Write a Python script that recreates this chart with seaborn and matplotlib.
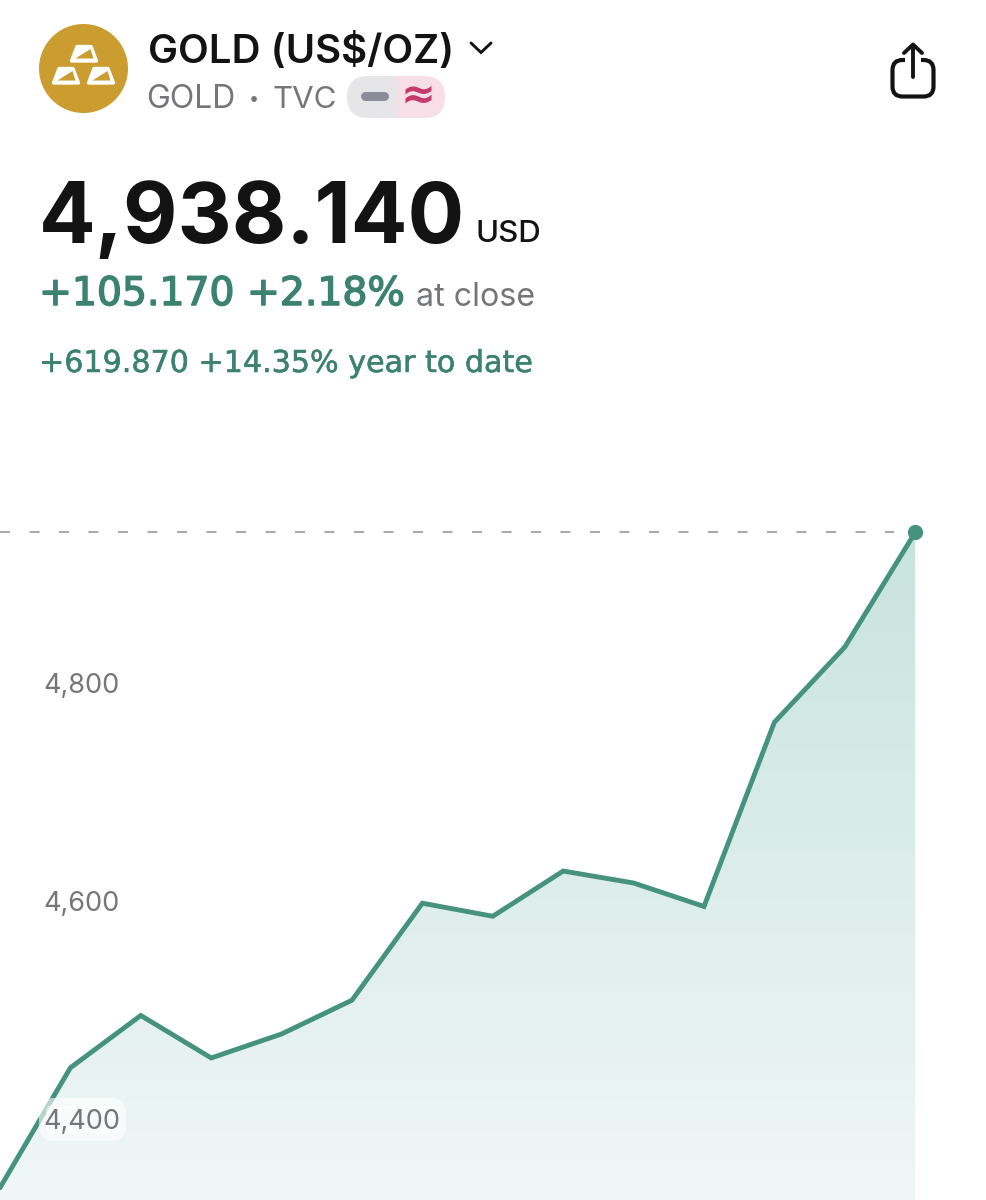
import seaborn as sns
import matplotlib
matplotlib.use("Agg")
import matplotlib.pyplot as plt
import matplotlib.patheffects as pe
from matplotlib.patches import Circle, FancyBboxPatch, Polygon, Rectangle
import numpy as np

# valeurs
sessions = list(range(14))
closes = [4337, 4447, 4495, 4456, 4478, 4509, 4598, 4586, 4627.5, 4616.5, 4595, 4764, 4833, 4938.14]
ytick_values = [4800, 4600, 4400]
ytick_labels = ["4,800", "4,600", "4,400"]
last_close = 4938.14

GREEN = "#45937F"
TEXT_GREEN = "#3C8270"
GREY = "#757679"
INK = "#131313"
GOLD = "#CB9C30"
FONT = "Inter"

sns.set_theme(style="white")
plt.rcParams["font.family"] = [FONT, "DejaVu Sans"]

fig = plt.figure(figsize=(9.86, 12), dpi=100)

# couche interface en pixels, sous le graphique
ui = fig.add_axes([0, 0, 1, 1], facecolor="none", zorder=0)
ui.set_xlim(0, 986)
ui.set_ylim(1200, 0)
ui.axis("off")

# axe du graphique, toute la figure
ax = fig.add_axes([0, 0, 1, 1], facecolor="none", zorder=1)
xlim = (0, 986 / 70.4)
ylim = (4800 - 517 / 1.09, 4800 + 683 / 1.09)
ax.set_xlim(xlim)
ax.set_ylim(ylim)
ax.axis("off")

# dégradé sous la courbe
poly = ax.fill_between(sessions, closes, ylim[0], color="none")
grad = np.linspace(0, 1, 256).reshape(-1, 1)
cmap = matplotlib.colors.LinearSegmentedColormap.from_list("fill", ["#C8E3DD", "#F0F7F6"])
im = ax.imshow(grad, cmap=cmap, aspect="auto", origin="upper", zorder=1,
               extent=[0, 13, ylim[0], last_close])
im.set_clip_path(poly.get_paths()[0], ax.transData)
ax.set_xlim(xlim)
ax.set_ylim(ylim)

ax.plot([0, 12.7], [last_close, last_close], color="#9A9A9A", lw=1.2,
        dashes=(6, 11.7), zorder=2)
sns.lineplot(x=sessions, y=closes, ax=ax, color=GREEN, linewidth=3.5, zorder=3,
             solid_joinstyle="miter", errorbar=None)
ax.plot(sessions[-1], closes[-1], "o", color=GREEN, ms=11, mew=0, zorder=4)

# étiquette 4,400 sur fond clair
ax.add_patch(FancyBboxPatch((46, 1105), 73, 29, boxstyle="round,pad=0,rounding_size=7",
                            transform=ui.transData, fc="white", ec="white", lw=10,
                            alpha=0.6, zorder=5))
for v, lab in zip(ytick_values, ytick_labels):
    ax.text(43.5 / 70.4, v - 2.5 / 1.09, lab, color=GREY, fontsize=19.5, va="center", ha="left", zorder=6)

# logo or
ui.add_patch(Circle((83.5, 68.5), 44.5, fc=GOLD, ec="none"))
bars = [(70, 45), (52, 67), (87, 67)]
for bx, by in bars:
    ui.add_patch(Polygon([(bx + 7, by + 1.5), (bx + 21, by + 1.5), (bx + 26.5, by + 16), (bx + 1.5, by + 16)],
                         closed=True, fc="white", ec="white", lw=2.4, joinstyle="round"))
    ui.add_patch(Polygon([(bx + 5.5, by + 13.5), (bx + 20.5, by + 4), (bx + 23.5, by + 13.5)],
                         closed=True, fc=GOLD, ec="none"))

# titre
ui.text(147.5, 63, "GOLD (US$/OZ)", fontsize=28.9, fontweight="semibold", color=INK, va="baseline")
ui.plot([471, 481, 491], [43, 52.5, 43], color=INK, lw=2.1, solid_capstyle="round", solid_joinstyle="miter")
ui.text(146.5, 108, "GOLD", fontsize=23, color=GREY, va="baseline")
ui.text(254, 104, "•", fontsize=13, color=GREY, va="baseline", ha="center")
ui.text(273, 108, "TVC", fontsize=22.5, color=GREY, va="baseline")

# pastille
pill = FancyBboxPatch((347, 76), 98, 42, boxstyle="round,pad=0,rounding_size=21", fc="none", ec="none")
ui.add_patch(pill)
left = Rectangle((347, 76), 50, 42, fc="#E6E6E9", ec="none", zorder=2)
right = Rectangle((397, 76), 48, 42, fc="#F8DFE7", ec="none", zorder=2)
ui.add_patch(left)
ui.add_patch(right)
left.set_clip_path(pill)
right.set_clip_path(pill)
ui.plot([365, 384], [96, 96], color="#8B8E9A", lw=6.5, solid_capstyle="round", zorder=3)
ui.text(418, 96, "≈", fontsize=30, fontweight="bold", color="#C63A6C", ha="center", va="center",
        family="DejaVu Sans", zorder=3)

# prix
ui.text(38.5, 243, "4,938.140", fontsize=60.5, fontweight="bold", color=INK, va="baseline")
ui.text(476, 242, "USD", fontsize=22.5, fontweight="medium", color=INK, va="baseline")
ui.text(39, 305, "+105.170 +2.18%", fontsize=28.3, color=TEXT_GREEN, va="baseline", family="DejaVu Sans",
        path_effects=[pe.withStroke(linewidth=1.1, foreground=TEXT_GREEN)])
ui.text(416, 306, "at close", fontsize=23.2, color=GREY, va="baseline")
ui.text(39, 372, "+619.870 +14.35% year to date", fontsize=21.7, color=TEXT_GREEN, va="baseline",
        family="DejaVu Sans", path_effects=[pe.withStroke(linewidth=0.4, foreground=TEXT_GREEN)])

# icône de partage
ui.add_patch(FancyBboxPatch((892.5, 60), 41, 36.5, boxstyle="round,pad=0,rounding_size=10",
                            fc="none", ec=INK, lw=3))
ui.add_patch(Rectangle((905, 55), 16, 10, fc="white", ec="none", zorder=2))
ui.plot([913, 913], [46, 77], color=INK, lw=2.8, solid_capstyle="round", zorder=3)
ui.plot([904, 913, 922], [53, 44.5, 53], color=INK, lw=2.8, solid_capstyle="round", zorder=3)

fig.savefig("out.png", dpi=100)
